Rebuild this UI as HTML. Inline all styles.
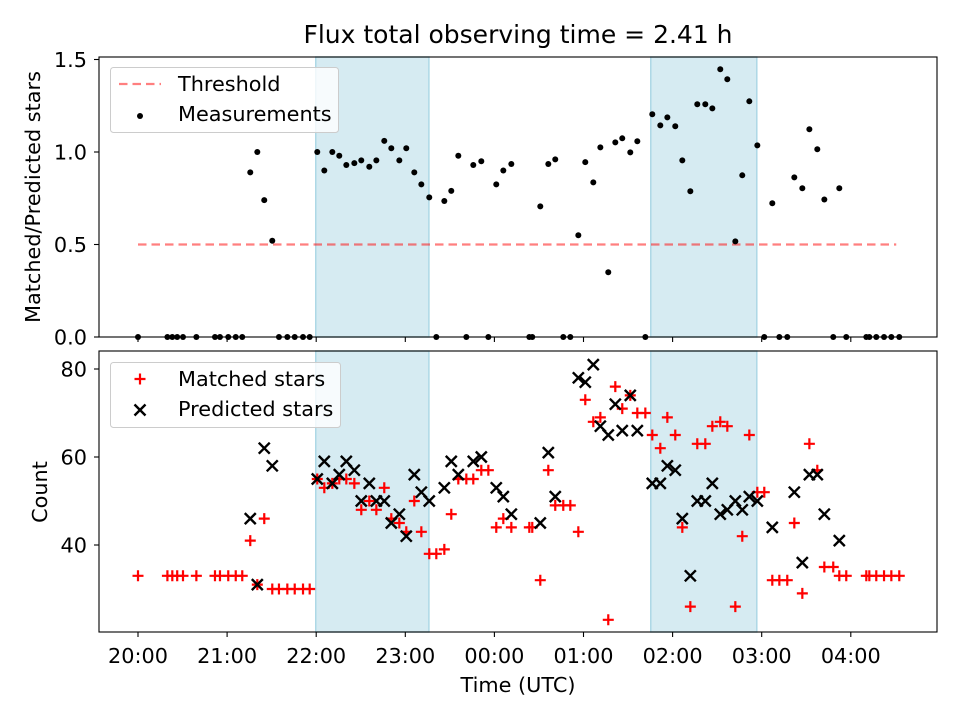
<!DOCTYPE html>
<html><head><meta charset="utf-8"><style>
body{margin:0;background:#fff}
svg text{font-family:"DejaVu Sans","Liberation Sans",sans-serif;fill:#000}
</style></head><body>
<svg id="chart" width="960" height="720" viewBox="0 0 960 720" xmlns="http://www.w3.org/2000/svg" style="position:absolute;left:0;top:0">
<text x="518" y="43" font-size="25" text-anchor="middle">Flux total observing time = 2.41 h</text>
<g id="topPanel"></g>
<g id="botPanel"></g>
<text x="518" y="692" font-size="20.8" text-anchor="middle">Time (UTC)</text>
<text transform="translate(40,197) rotate(-90)" font-size="20.8" text-anchor="middle">Matched/Predicted stars</text>
<text transform="translate(47,492) rotate(-90)" font-size="20.8" text-anchor="middle">Count</text>
</svg>
<script>
// hours since 20:00 UTC
const times=[0,0.33,0.385,0.44,0.505,0.655,0.864,0.92,1.013,1.097,1.17,1.26,1.339,1.417,1.507,1.582,1.676,1.759,1.852,1.927,2.012,2.091,2.181,2.259,2.338,2.428,2.506,2.596,2.675,2.764,2.843,2.933,3.011,3.101,3.18,3.269,3.348,3.438,3.516,3.595,3.685,3.763,3.853,3.932,4.021,4.1,4.19,4.392,4.425,4.515,4.605,4.683,4.773,4.852,4.942,5.02,5.11,5.189,5.278,5.357,5.435,5.525,5.604,5.694,5.772,5.862,5.941,6.03,6.109,6.199,6.277,6.367,6.446,6.535,6.614,6.704,6.782,6.861,6.951,7.029,7.119,7.198,7.287,7.366,7.456,7.535,7.624,7.703,7.803,7.871,7.949,8.174,8.208,8.286,8.373,8.455,8.544];
const ratio=[0,0,0,0,0,0,0,0,0,0,0,0.89,1.0,0.74,0.52,0,0,0,0,0,1.0,0.9,1.0,0.98,0.93,0.94,0.955,0.92,0.955,1.06,1.02,0.955,1.02,0.89,0.825,0.755,0,0.735,0.79,0.98,0,0.93,0.95,0,0.825,0.9,0.935,0,0,0.706,0.935,0.96,0,0,0.55,0.945,0.836,1.025,0.35,1.052,1.074,0.998,1.058,0,1.204,1.144,1.187,1.139,0.955,0.788,1.258,1.258,1.236,1.447,1.393,0.517,0.874,1.274,1.036,0,0.723,0,0,0.863,0.804,1.123,1.015,0.743,0,0.804,0,0,0,0,0,0,0];
const matched=[33,33,33,33,33,33,33,33,33,33,33,41,31,46,30,30,30,30,30,30,55,53,54,55,55,54,48,50,48,53,46,45,43,50,43,38,38,39,47,55,55,55,57,57,44,46,44,44,44,32,57,49,49,49,43,73,68,69,23,76,71,74,70,70,65,62,69,65,44,26,63,63,67,68,67,26,42,65,52,52,32,32,32,45,29,63,57,35,35,33,33,33,33,33,33,33,33];
const predicted=[null,null,null,null,null,null,null,null,null,null,null,46,31,62,58,null,null,null,null,null,55,59,54,56,59,57,50,54,50,50,45,47,42,56,52,50,null,53,59,56,null,59,60,null,53,51,47,null,null,45,61,51,null,null,78,77,81,67,65,72,66,74,66,null,54,54,58,57,46,33,50,50,54,47,48,50,48,51,50,null,44,null,null,52,36,56,56,47,null,41,null,null,null,null,null,null,null];
const xTicks=[0,1,2,3,4,5,6,7,8];
const xTickLabels=["20:00","21:00","22:00","23:00","00:00","01:00","02:00","03:00","04:00"];
const topTicks=[0,0.5,1.0,1.5];
const topTickLabels=["0.0","0.5","1.0","1.5"];
const botTicks=[40,60,80];
const shaded=[[1.995,3.265],[5.755,6.945]];
const threshold=0.5;
const thresholdRange=[0,8.51];

const NS="http://www.w3.org/2000/svg";
function mk(p,tag,a){const e=document.createElementNS(NS,tag);for(const k in a)e.setAttribute(k,a[k]);p.appendChild(e);return e;}
const L=99,R=937;
const X=h=>138+89.1*h;
const YT=v=>337-185*v;
const YB=v=>545-(v-40)*4.4;
const gTop=document.getElementById('topPanel'),gBot=document.getElementById('botPanel');

function panel(g,y0,y1,name){
  shaded.forEach(s=>{const r=mk(g,'rect',{x:X(s[0]),y:y0,width:X(s[1])-X(s[0]),height:y1-y0,fill:'#add8e6','fill-opacity':0.5,stroke:'#add8e6','stroke-width':1.5});
  
  });
}
panel(gTop,57,337,'top');panel(gBot,351,632,'bottom');

const th=mk(gTop,'line',{x1:X(thresholdRange[0]),x2:X(thresholdRange[1]),y1:YT(threshold),y2:YT(threshold),stroke:'#ff0000','stroke-opacity':0.5,'stroke-width':2.2,'stroke-dasharray':'8.5,5'});



times.forEach((t,i)=>{const c=mk(gTop,'circle',{cx:X(t),cy:YT(ratio[i]),r:3,fill:'#000'});

});

times.forEach((t,i)=>{const x=X(t),y=YB(matched[i]);
 const p=mk(gBot,'path',{d:`M${x-5.5},${y}H${x+5.5}M${x},${y-5.5}V${y+5.5}`,stroke:'#ff0000','stroke-width':2.2});
 
 });
times.forEach((t,i)=>{if(predicted[i]==null)return;const x=X(t),y=YB(predicted[i]);
 const p=mk(gBot,'path',{d:`M${x-5.5},${y-5.5}L${x+5.5},${y+5.5}M${x-5.5},${y+5.5}L${x+5.5},${y-5.5}`,stroke:'#000','stroke-width':2.4});
 
 });

[[gTop,57,337],[gBot,351,632]].forEach(([g,a,b])=>{const f=mk(g,'rect',{x:L,y:a,width:R-L,height:b-a,fill:'none',stroke:'#000','stroke-width':1.1});

});

xTicks.forEach((h,i)=>{[337,632].forEach(yb=>{const l=mk(yb==337?gTop:gBot,'line',{x1:X(h),x2:X(h),y1:yb,y2:yb+5,stroke:'#000','stroke-width':1.1});
 
 });
 const t=mk(gBot,'text',{x:X(h),y:663,'font-size':20.8,'text-anchor':'middle'});t.textContent=xTickLabels[i];
 
 });
topTicks.forEach((v,i)=>{const l=mk(gTop,'line',{x1:L-5,x2:L,y1:YT(v),y2:YT(v),stroke:'#000','stroke-width':1.1});
 
 
 const t=mk(gTop,'text',{x:L-12,y:YT(v)+7.5,'font-size':20.8,'text-anchor':'end'});t.textContent=topTickLabels[i];
 
 });
botTicks.forEach(v=>{const l=mk(gBot,'line',{x1:L-5,x2:L,y1:YB(v),y2:YB(v),stroke:'#000','stroke-width':1.1});
 
 
 const t=mk(gBot,'text',{x:L-12,y:YB(v)+7.5,'font-size':20.8,'text-anchor':'end'});t.textContent=v;
 
 });
</script>
<svg width="960" height="720" style="position:absolute;left:0;top:0" xmlns="http://www.w3.org/2000/svg">
<g>
<rect x="110.5" y="67.5" width="228" height="65" rx="3" fill="#fff" fill-opacity="0.8" stroke="#ccc"/>
<line x1="119" x2="161" y1="84" y2="84" stroke="#ff0000" stroke-opacity="0.5" stroke-width="2.2" stroke-dasharray="8.5,5"/>
<text x="178" y="91" font-size="20.8">Threshold</text>
<circle cx="140" cy="116" r="3" fill="#000"/>
<text x="178" y="121" font-size="20.8">Measurements</text>
</g>
<g>
<rect x="110.5" y="362.5" width="230" height="65" rx="3" fill="#fff" fill-opacity="0.8" stroke="#ccc"/>
<path d="M134.5,379H145.5M140,373.5V384.5" stroke="#ff0000" stroke-width="2.2"/>
<text x="178" y="386" font-size="20.8">Matched stars</text>
<path d="M134.5,404.5L145.5,415.5M134.5,415.5L145.5,404.5" stroke="#000" stroke-width="2.4"/>
<text x="178" y="416" font-size="20.8">Predicted stars</text>
</g>
</svg>
</body></html>
